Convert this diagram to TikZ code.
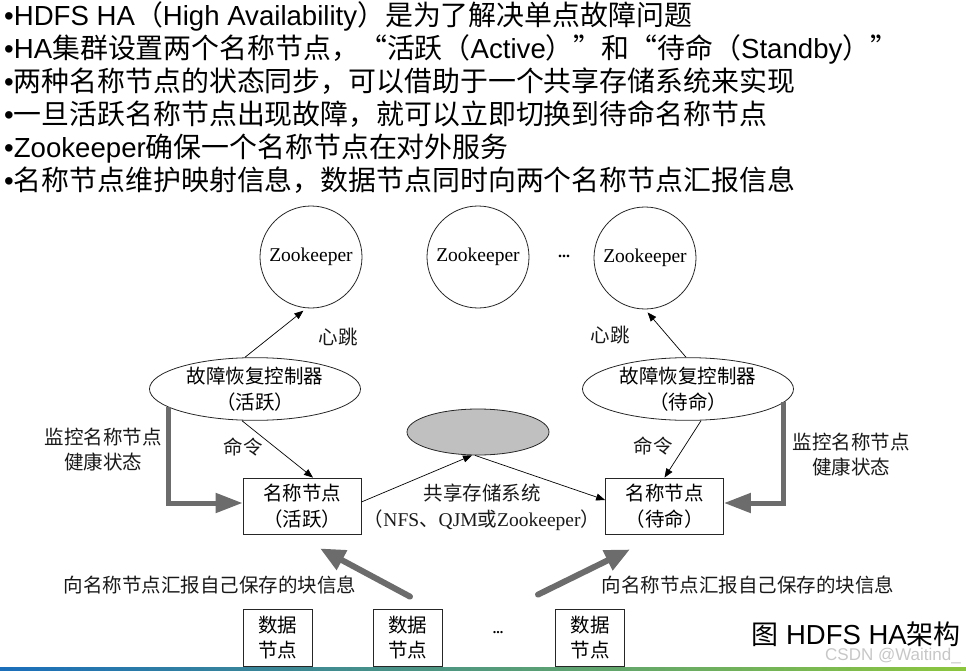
\documentclass[tikz,border=0pt]{standalone}
\usepackage{fontspec}
\setmainfont{Liberation Serif}
\newfontfamily\arial{Liberation Sans}
\newfontfamily\song{Noto Sans CJK SC}
\newcommand{\cjL}[1]{{\fontsize{27.9}{33}\selectfont\song #1}}
\newcommand{\cjC}[1]{{\fontsize{27}{33}\selectfont\song #1}}
\usetikzlibrary{shapes.geometric,arrows.meta,calc}
\definecolor{arrowgray}{RGB}{108,108,108}
\definecolor{sharedgray}{RGB}{192,192,192}
\definecolor{barblue}{RGB}{26,110,186}
\definecolor{bargreen}{RGB}{140,198,62}
\tikzset{
  dtext/.style={inner sep=0pt, align=center, text=black!90, font=\fontsize{19.5}{26}\selectfont\song},
  zk/.style={circle, draw=black!85, line width=0.8pt, minimum size=102pt, inner sep=0pt, font=\fontsize{19.5}{24}\selectfont},
  fc/.style={ellipse, draw=black!85, line width=0.8pt, minimum width=211pt, minimum height=55pt, inner sep=0pt, align=center, font=\fontsize{19.5}{26}\selectfont\song},
  shared/.style={ellipse, draw=black!85, fill=sharedgray, line width=0.8pt, minimum width=142pt, minimum height=46pt, inner sep=0pt},
  nn/.style={rectangle, draw=black!85, line width=0.8pt, minimum width=118pt, minimum height=56pt, inner sep=0pt, align=center, font=\fontsize{19.5}{26}\selectfont\song},
  dn/.style={rectangle, draw=black!85, line width=0.8pt, minimum width=69pt, minimum height=57pt, inner sep=0pt, align=center, font=\fontsize{19.5}{25}\selectfont\song},
  thinarr/.style={draw=black, line width=0.7pt, -{Triangle[length=9pt,width=7pt]}},
  lbarr/.style={draw=arrowgray, line width=5pt, -{Triangle[length=27pt,width=19pt]}},
  dnarr/.style={draw=arrowgray, line width=6pt, line cap=round, -{Triangle[length=25pt,width=21pt]}},
  bullet/.style={anchor=base west, inner sep=0pt, font=\fontsize{27.6}{33}\selectfont\arial, text=black},
}
\begin{document}
\begin{tikzpicture}[x=1pt, y=-1pt]
\useasboundingbox (0,0) rectangle (966,671);

% bullet text
\node[bullet] (l1) at (4,26) {•HDFS HA\cjL{（}High Availability\cjL{）是为了解决单点故障问题}};
\node[bullet] (l2) at (4,59) {•HA\cjL{集群设置两个名称节点，“活跃（}Active\cjL{）”和“待命（}Standby\cjL{）”}};
\node[bullet] (l3) at (4,92) {•\cjL{两种名称节点的状态同步，可以借助于一个共享存储系统来实现}};
\node[bullet] (l4) at (4,125) {•\cjL{一旦活跃名称节点出现故障，就可以立即切换到待命名称节点}};
\node[bullet] (l5) at (4,158) {•Zookeeper\cjL{确保一个名称节点在对外服务}};
\node[bullet] (l6) at (4,191) {•\cjL{名称节点维护映射信息，数据节点同时向两个名称节点汇报信息}};

% zookeepers
\node[zk] (zk1) at (311,257) {Zookeeper};
\node[zk] (zk2) at (478,257) {Zookeeper};
\node[zk] (zk3) at (645,258) {Zookeeper};
\node[inner sep=0pt, font=\fontsize{16}{18}\selectfont\bfseries] (zdots) at (564,256) {...};

% failover controllers
\node[fc] (fcA) at (255,389) {故障恢复控制器\\（活跃）};
\node[fc] (fcS) at (688,389) {故障恢复控制器\\（待命）};

% shared storage
\node[shared] (sh) at (478,432) {};
\node[dtext] (shl) at (482,507) {共享存储系统\\{\song （}\rmfamily NFS{\song 、}QJM{\song 或}Zookeeper{\song ）}};

% name nodes
\node[nn] (nnA) at (302,506) {名称节点\\（活跃）};
\node[nn] (nnS) at (664.5,506) {名称节点\\（待命）};

% data nodes
\node[dn] (dn1) at (277.5,637.5) {数据\\节点};
\node[dn] (dn2) at (407.5,637.5) {数据\\节点};
\node[dn] (dn3) at (590,637.5) {数据\\节点};
\node[inner sep=0pt, font=\fontsize{14}{16}\selectfont\bfseries] (ddots) at (498,633) {...};

% labels
\node[dtext] (hbA) at (338,337) {心跳};
\node[dtext] (hbS) at (610,335) {心跳};
\node[dtext] (cmA) at (243,447) {命令};
\node[dtext] (cmS) at (653,446) {命令};
\node[dtext, font=\fontsize{19.5}{25}\selectfont\song] (monA) at (103,450) {监控名称节点\\健康状态};
\node[dtext, font=\fontsize{19.5}{25}\selectfont\song] (monS) at (851,455) {监控名称节点\\健康状态};
\node[dtext] (repA) at (210,585) {向名称节点汇报自己保存的块信息};
\node[dtext] (repS) at (748,585) {向名称节点汇报自己保存的块信息};

% thin arrows
\draw[thinarr, shorten >=4pt] ([xshift=-10pt]fcA.north) -- (zk1.-95);
\draw[thinarr, shorten >=4pt] ([xshift=-2pt]fcS.north) -- (zk3.-90);
\draw[thinarr] ([xshift=-13pt]fcA.south) -- ([xshift=11pt]nnA.north);
\draw[thinarr] ([xshift=13pt]fcS.south) -- (nnS.north);
\draw[thinarr] ([yshift=4pt]nnA.east) -- ([xshift=-6pt]sh.south);
\draw[thinarr] ([xshift=-3pt]sh.south) -- ([yshift=6pt]nnS.west);

% thick monitor arrows
\draw[lbarr] (fcA.192) |- ([yshift=3pt]nnA.west);
\draw[lbarr] (fcS.-8) |- ([yshift=3pt]nnS.east);

% data node report arrows
\draw[dnarr] ([shift={(2.5pt,12pt)}]dn2.north) -- ([shift={(18pt,-14pt)}]nnA.south);
\draw[dnarr] ([shift={(-52pt,14pt)}]dn3.north) -- ([shift={(-34.5pt,-15pt)}]nnS.south);

% caption and watermark
\node[anchor=base east, inner sep=0pt, font=\fontsize{27.5}{30}\selectfont\arial] (cap) at (961,644) {\cjC{图} HDFS HA\cjC{架构}};
\node[anchor=east, inner sep=0pt, font=\fontsize{17}{18}\selectfont\arial, text=black!22] (wm) at (961,656) {CSDN @Waitind\_};

% bottom bar
\shade[left color=barblue, right color=bargreen] (0,667.5) rectangle (966,671);
\end{tikzpicture}
\end{document}
